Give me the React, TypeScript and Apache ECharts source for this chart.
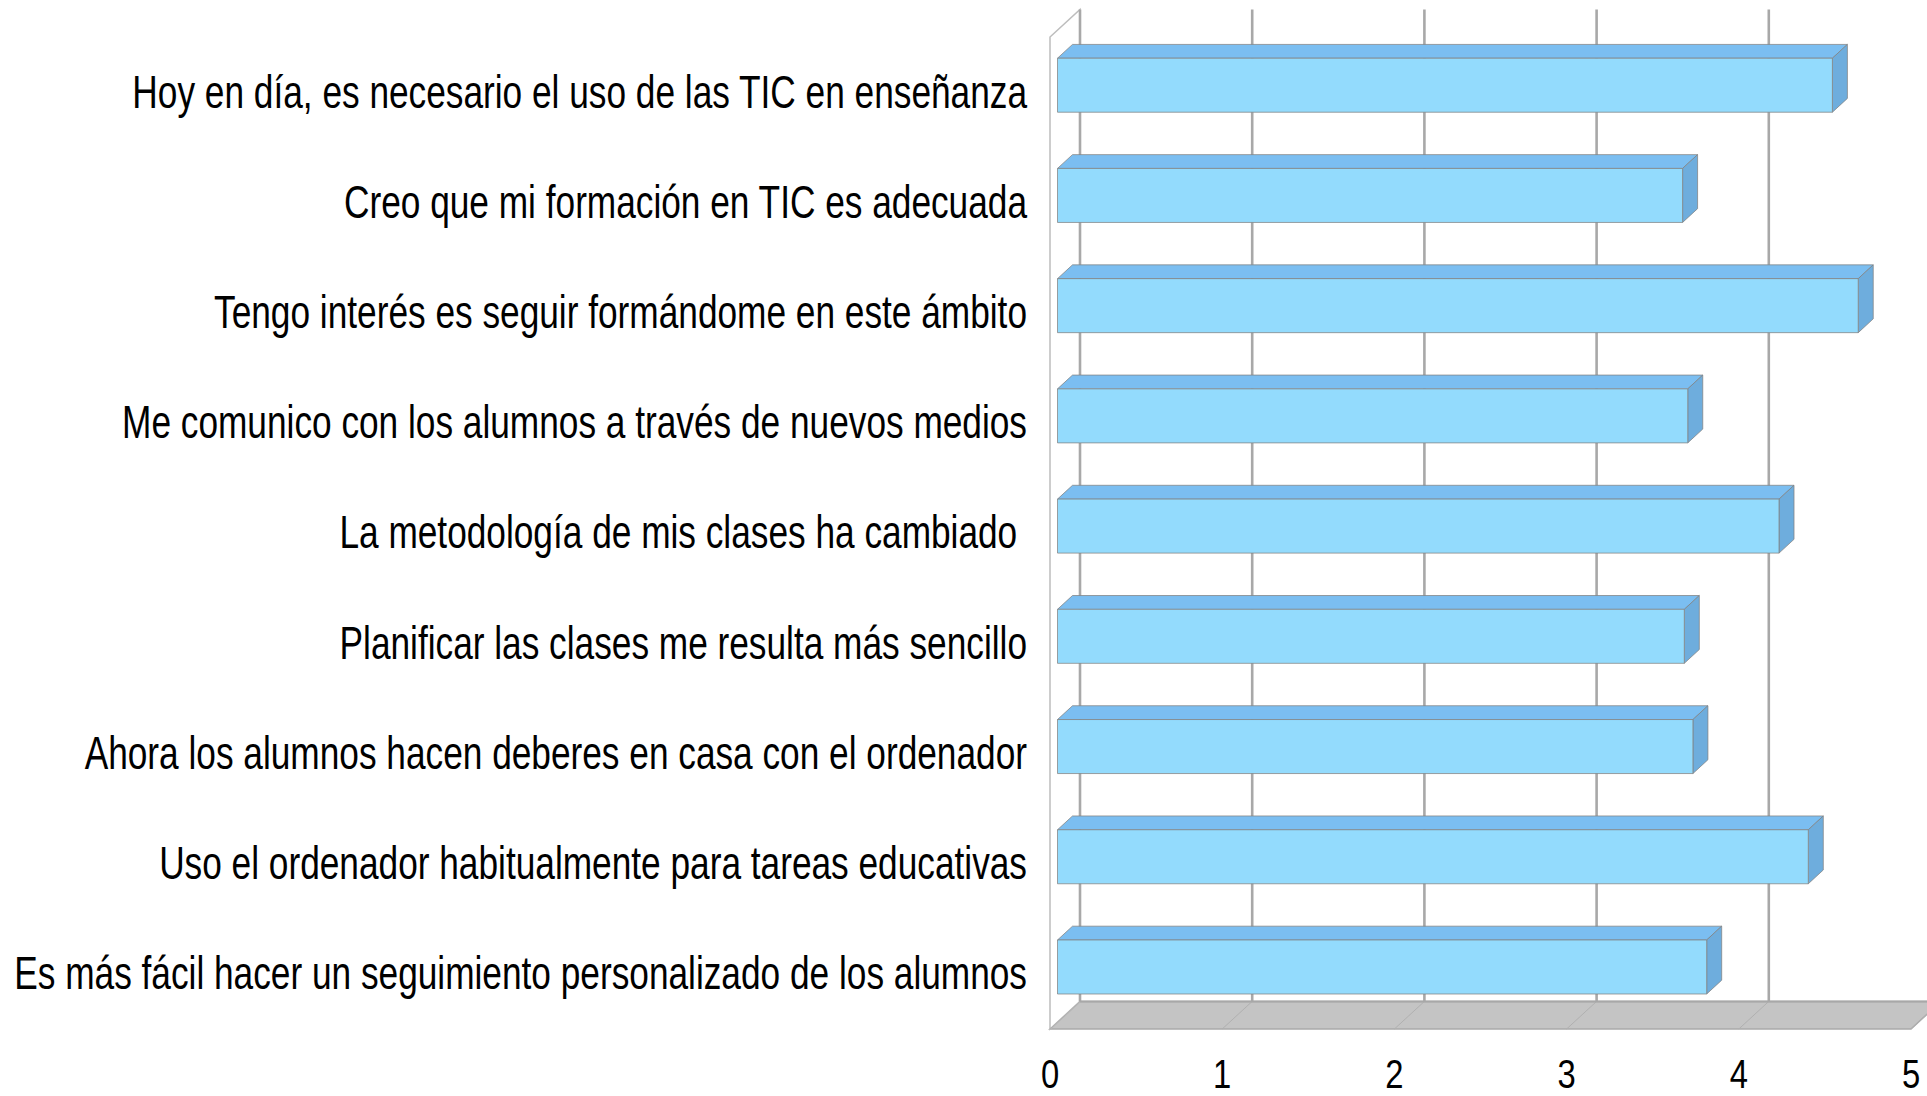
import React, { useEffect, useRef } from "react";
import * as echarts from "echarts";

const categories = [
  "Hoy en día, es necesario el uso de las TIC en enseñanza",
  "Creo que mi formación en TIC es adecuada",
  "Tengo interés es seguir formándome en este ámbito",
  "Me comunico con los alumnos a través de nuevos medios",
  "La metodología de mis clases ha cambiado ",
  "Planificar las clases me resulta más sencillo",
  "Ahora los alumnos hacen deberes en casa con el ordenador",
  "Uso el ordenador habitualmente para tareas educativas",
  "Es más fácil hacer un seguimiento personalizado de los alumnos",
];
const values = [4.5, 3.63, 4.65, 3.66, 4.19, 3.64, 3.69, 4.36, 3.77];
const ticks = [0, 1, 2, 3, 4, 5];

const FONT = "'Liberation Sans', Arial, sans-serif";
const DX = 30;
const DY = -27.6;

export default function App() {
  const ref = useRef<HTMLDivElement>(null);
  useEffect(() => {
    const chart = echarts.init(ref.current as HTMLDivElement, null, { renderer: "svg" });
    const tMin = ticks[0];
    const tMax = ticks[ticks.length - 1];
    chart.setOption({
      animation: false,
      backgroundColor: "#ffffff",
      grid: { left: 1050, right: 16, top: 37, bottom: 67, containLabel: false, outerBoundsMode: "none" },
      xAxis: {
        type: "value",
        min: tMin,
        max: tMax,
        interval: 1,
        axisLine: { show: false },
        axisTick: { show: false },
        splitLine: { show: false },
        axisLabel: { show: false },
      },
      yAxis: {
        type: "category",
        data: categories,
        inverse: true,
        axisLine: { show: false },
        axisTick: { show: false },
        splitLine: { show: false },
        axisLabel: { show: false },
      },
      series: [
        {
          type: "custom",
          name: "frame",
          silent: true,
          z: 1,
          data: [[tMin, 0]],
          renderItem: (params: any, api: any) => {
            const cs = params.coordSys;
            const top = cs.y;
            const bottom = cs.y + cs.height;
            const xa = api.coord([tMin, 0])[0];
            const xb = api.coord([tMax, 0])[0];
            const children: any[] = [];
            children.push({
              type: "polygon",
              shape: {
                points: [
                  [xa, bottom],
                  [xb, bottom],
                  [xb + DX, bottom + DY],
                  [xa + DX, bottom + DY],
                ],
              },
              style: { fill: "#c4c4c4", stroke: "#a9a9a9", lineWidth: 1.5 },
            });
            children.push({
              type: "polygon",
              shape: {
                points: [
                  [xa, top],
                  [xa, bottom],
                  [xa + DX, bottom + DY],
                  [xa + DX, top + DY],
                ],
              },
              style: { fill: "#ffffff", stroke: "#bdbdbd", lineWidth: 1.5 },
            });
            ticks.forEach((t) => {
              const x = api.coord([t, 0])[0];
              children.push({
                type: "line",
                shape: { x1: x, y1: bottom, x2: x + DX, y2: bottom + DY },
                style: { stroke: "#b0b0b0", lineWidth: 1 },
              });
              children.push({
                type: "line",
                shape: { x1: x + DX, y1: top + DY, x2: x + DX, y2: bottom + DY },
                style: { stroke: "#a8a8a8", lineWidth: 2.6 },
              });
            });
            children.push({
              type: "line",
              shape: { x1: xa + DX, y1: bottom + DY, x2: xb + DX, y2: bottom + DY },
              style: { stroke: "#a8a8a8", lineWidth: 2 },
            });
            return { type: "group", children };
          },
        },
        {
          type: "custom",
          name: "bars",
          z: 2,
          data: values.map((v, i) => [v, i]),
          renderItem: (params: any, api: any) => {
            const v = api.value(0);
            const c = api.value(1);
            const p0 = api.coord([0, c]);
            const p1 = api.coord([v, c]);
            const band = api.size([0, 1])[1];
            const h = band * 0.49;
            const fx = DX * 0.25;
            const fy = DY * 0.25;
            const bx = DX * 0.5;
            const by = DY * 0.5;
            const x0 = p0[0] + fx;
            const x1 = p1[0] + fx;
            const yt = p0[1] + fy - h / 2;
            const yb = p0[1] + fy + h / 2;
            const edge = "rgba(130,130,130,0.75)";
            return {
              type: "group",
              children: [
                {
                  type: "polygon",
                  shape: { points: [[x0, yt], [x1, yt], [x1 + bx, yt + by], [x0 + bx, yt + by]] },
                  style: { fill: "#7bbef1", stroke: edge, lineWidth: 1 },
                },
                {
                  type: "polygon",
                  shape: { points: [[x1, yt], [x1 + bx, yt + by], [x1 + bx, yb + by], [x1, yb]] },
                  style: { fill: "#6eaddd", stroke: edge, lineWidth: 1 },
                },
                {
                  type: "rect",
                  shape: { x: x0, y: yt, width: x1 - x0, height: yb - yt },
                  style: { fill: "#93dbfd", stroke: edge, lineWidth: 1 },
                },
              ],
            };
          },
        },
        {
          type: "custom",
          name: "categoryLabels",
          silent: true,
          z: 3,
          data: categories.map((_, i) => [tMin, i]),
          renderItem: (params: any, api: any) => {
            const p = api.coord([api.value(0), api.value(1)]);
            return {
              type: "text",
              x: p[0] - 23,
              y: p[1] - 1,
              scaleX: 0.75,
              style: {
                text: categories[params.dataIndex],
                align: "right",
                verticalAlign: "middle",
                fontSize: 47,
                fontFamily: FONT,
                fill: "#000000",
              },
            };
          },
        },
        {
          type: "custom",
          name: "tickLabels",
          silent: true,
          z: 3,
          data: ticks.map((t) => [t, 0]),
          renderItem: (params: any, api: any) => {
            const cs = params.coordSys;
            const p = api.coord([api.value(0), 0]);
            return {
              type: "text",
              x: p[0],
              y: cs.y + cs.height + 45,
              scaleX: 0.82,
              style: {
                text: String(ticks[params.dataIndex]),
                align: "center",
                verticalAlign: "middle",
                fontSize: 40,
                fontFamily: FONT,
                fill: "#000000",
              },
            };
          },
        },
      ],
    });
    return () => chart.dispose();
  }, []);
  return (
    <div
      ref={ref}
      style={{ position: "fixed", left: 0, top: 0, width: 1927, height: 1096, background: "#fff" }}
    />
  );
}
